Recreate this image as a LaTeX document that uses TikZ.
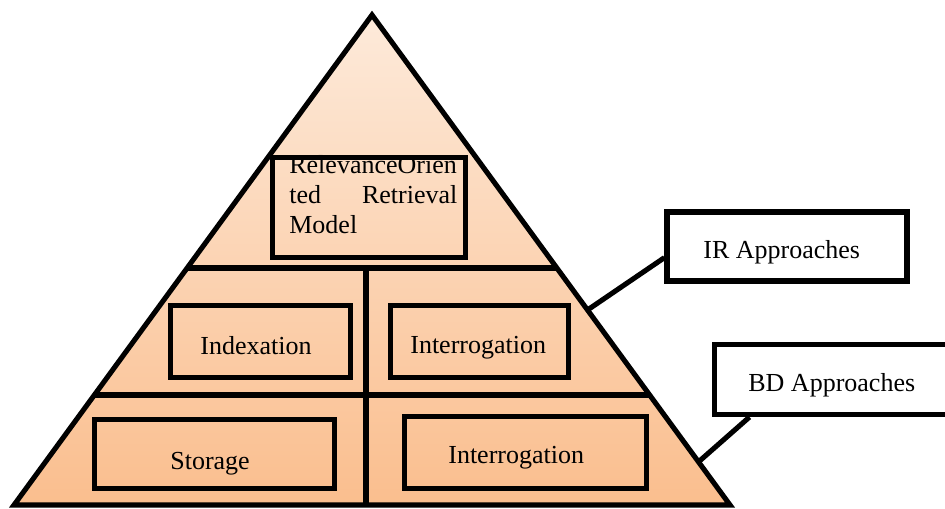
\documentclass[tikz,border=0pt]{standalone}
\usepackage{fontspec}
\setmainfont{Liberation Serif}
\usetikzlibrary{calc,fit}
\definecolor{peachtop}{RGB}{253,234,218}
\definecolor{peachbot}{RGB}{250,190,142}
\begin{document}
\begin{tikzpicture}[x=0.02cm,y=-0.02cm,
  edge/.style={line width=2.9pt,line join=miter},
  stagebox/.style={draw,line width=2.9pt,inner sep=0pt},
  callout/.style={draw,line width=2.9pt,fill=white,inner sep=0pt},
  lbl/.style={font=\fontsize{14.8}{17}\selectfont,inner sep=0pt,anchor=base west}]
\useasboundingbox (0,0) rectangle (945,509);
\clip (0,0) rectangle (945,509);

% pyramid outline
\coordinate (apex) at (372,15);
\coordinate (bl) at (14,505);
\coordinate (br) at (730,505);
\shade[top color=peachtop,bottom color=peachbot] (apex) -- (bl) -- (br) -- cycle;

% tier separators
\coordinate (t1l) at ($(apex)!0.5163!(bl)$);
\coordinate (t1r) at ($(apex)!0.5163!(br)$);
\coordinate (t2l) at ($(apex)!0.7755!(bl)$);
\coordinate (t2r) at ($(apex)!0.7755!(br)$);
\coordinate (vtop) at (366,268);
\coordinate (vbot) at (366,505);
\draw[edge] (t1l) -- (t1r);
\draw[edge] (t2l) -- (t2r);
\draw[edge] (vtop) -- (vbot);
\draw[edge] (apex) -- (bl) -- (br) -- cycle;

% top tier
\node[lbl] (modeltxt) at (289,174) {\parbox[t]{3.36cm}{RelevanceOrien\\\makebox[3.36cm][s]{ted\hfill Retrieval}\\Model}};
\node[stagebox,fit={(272.5,157.5) (465.5,257.5)}] (model) {};

% middle tier
\node[stagebox,fit={(170.5,305.5) (350.5,377.5)}] (index) {};
\node[lbl] (indextxt) at (200,355) {Indexation};
\node[stagebox,fit={(390.5,305.5) (568.5,377.5)}] (query) {};
\node[lbl] (querytxt) at (410,354) {Interrogation};

% bottom tier
\node[stagebox,fit={(94.5,419.5) (334.5,488.5)}] (store) {};
\node[lbl] (storetxt) at (170,469) {Storage};
\node[stagebox,fit={(404.5,416.5) (646.5,488.5)}] (dbquery) {};
\node[lbl] (dbquerytxt) at (448,463) {Interrogation};

% callouts
\node[callout,fit={(667,212) (907,281)}] (ir) {};
\node[lbl] (irtxt) at (703,259) {IR Approaches};
\node[callout,fit={(714.5,344.5) (960,414.5)}] (bd) {};
\node[lbl] (bdtxt) at (748,391) {BD Approaches};

\coordinate (irfoot) at ($(apex)!0.602!(br)$);
\coordinate (bdfoot) at ($(apex)!0.912!(br)$);
\draw[edge] ($(ir.south west)!0.35!(ir.north west)$) -- (irfoot);
\draw[edge] ($(bd.south west)+(37.5,0)$) -- (bdfoot);
\end{tikzpicture}
\end{document}
